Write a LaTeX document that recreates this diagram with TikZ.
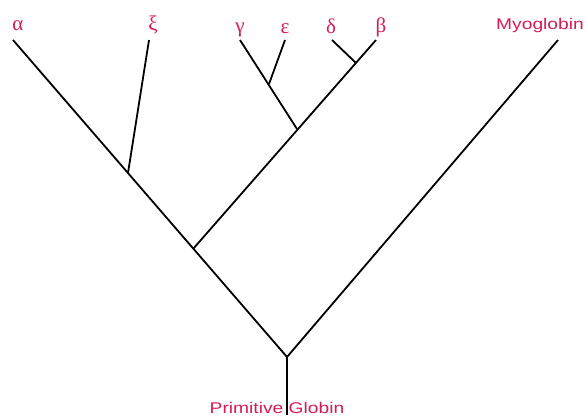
\documentclass[tikz,border=0pt]{standalone}
\usepackage{fontspec}
\setmainfont{Liberation Serif}
\newfontfamily\labsans{Liberation Sans}
\definecolor{labred}{RGB}{214,28,88}
\begin{document}
\begin{tikzpicture}[x=1pt,y=-1pt,
  branch/.style={line width=1.8pt,black},
  greek/.style={text=labred,font=\fontsize{21}{21}\selectfont,anchor=base,inner sep=0pt},
  taxon/.style={text=labred,font=\labsans\fontsize{15.5}{16}\selectfont,anchor=base,inner sep=0pt}]
\useasboundingbox (0,0) rectangle (585,416);
% coordinates
\coordinate (root) at (287,357);
\coordinate (base) at (287,415);
\coordinate (ta) at (13,40);
\coordinate (tx) at (149,40);
\coordinate (jx) at (128,173);
\coordinate (jb) at (193,249);
\coordinate (tb) at (376,40);
\coordinate (jge) at (297,129);
\coordinate (tg) at (240,40);
\coordinate (jg) at (269,84);
\coordinate (te) at (285,40);
\coordinate (td) at (332,40);
\coordinate (jd) at (356,63);
\coordinate (tm) at (558,40);
% branches
\draw[branch] (base) -- (root);
\draw[branch] (root) -- (ta);
\draw[branch] (root) -- (tm);
\draw[branch] (jx) -- (tx);
\draw[branch] (jb) -- (tb);
\draw[branch] (jge) -- (tg);
\draw[branch] (jg) -- (te);
\draw[branch] (jd) -- (td);
% labels
\node[greek] (la) at (18,30) {α};
\node[greek] (lx) at (153,30) {ξ};
\node[greek] (lg) at (240,32) {γ};
\node[greek] (le) at (285,33) {ε};
\node[greek] (ld) at (331,33) {δ};
\node[greek] (lb) at (381,32) {β};
\node[taxon] (lm) at (540,29) {\scalebox{1.24}[1]{Myoglobin}};
\node[taxon] (lp) at (277,413) {\scalebox{1.24}[1]{Primitive Globin}};
\end{tikzpicture}
\end{document}
